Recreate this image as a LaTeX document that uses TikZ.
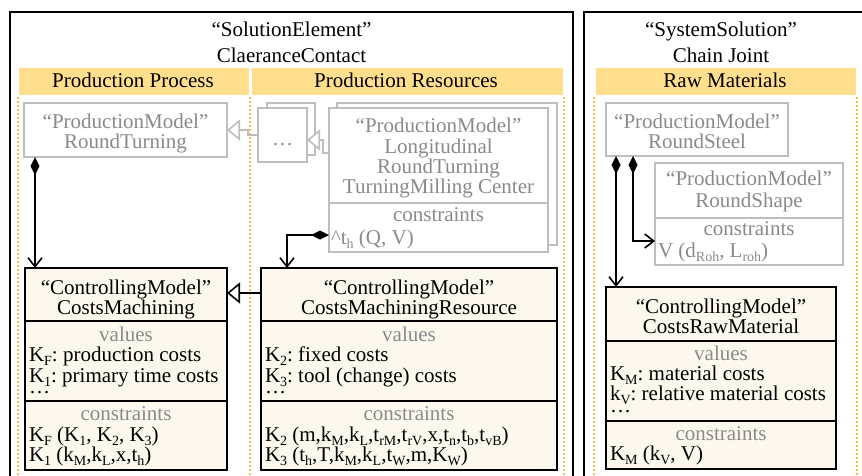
\documentclass[tikz,border=0pt]{standalone}
\usepackage{fontspec}
\setmainfont{Liberation Serif}
\usetikzlibrary{arrows.meta}
\definecolor{hdr}{HTML}{FFDF8E}
\definecolor{dotc}{HTML}{F9BC45}
\definecolor{pmline}{HTML}{BEBEBE}
\definecolor{pmtext}{HTML}{8A8A8A}
\definecolor{cream}{HTML}{FCF8EE}
% lowered subscript in the running text font
\newcommand\sbs[1]{\raisebox{-4.5pt}{\fontsize{14}{14}\selectfont #1}}
\frenchspacing
\begin{document}
\begin{tikzpicture}[x=1pt,y=-1pt,
  every node/.style={inner sep=0pt, outer sep=0pt},
  frame/.style={draw=black, line width=1.8pt, anchor=north west},
  header/.style={fill=hdr, anchor=north west},
  lane/.style={draw=dotc, line width=1.6pt, dash pattern=on 1.6pt off 2.4pt},
  pmbox/.style={draw=pmline, line width=1.6pt, fill=white, anchor=north west},
  cmbox/.style={draw=black, line width=1.8pt, fill=cream, anchor=north west},
  pmsep/.style={draw=pmline, line width=1.6pt},
  cmsep/.style={draw=black, line width=1.8pt},
  txt/.style={font=\fontsize{21}{21}\selectfont\frenchspacing, anchor=base},
  ltxt/.style={txt, anchor=base west},
  gtxt/.style={txt, text=pmtext},
  gltxt/.style={ltxt, text=pmtext},
  comp/.style={line width=1.6pt, {Diamond[length=18pt,width=9pt]}-{Straight Barb[length=9pt,width=14pt]}},
  gen/.style={line width=1.6pt, -{Triangle[open, length=13pt, width=21pt, fill=white]}},
]
\useasboundingbox (0,0) rectangle (862,475);
\clip (0,0) rectangle (862,475);

% swimlane separators
\draw[lane] (18,97) -- (18,480);
\draw[lane] (250,97) -- (250,480);
\draw[lane] (564,97) -- (564,480);
\draw[lane] (594,97) -- (594,480);
\draw[lane] (857,97) -- (857,480);

% outer frames
\node[frame, minimum width=563pt, minimum height=480pt] (seFrame) at (10,12) {};
\node[frame, minimum width=300pt, minimum height=480pt] (ssFrame) at (584,12) {};

% frame titles
\node[txt] (seT1) at (291.5,36) {“SolutionElement”};
\node[txt] (seT2) at (291.5,62) {ClaeranceContact};
\node[txt] (ssT1) at (721,36) {“SystemSolution”};
\node[txt] (ssT2) at (721,62) {Chain Joint};

% lane headers
\node[header, minimum width=230pt, minimum height=27pt] (hPP) at (19,68) {};
\node[header, minimum width=311pt, minimum height=27pt] (hPR) at (252,68) {};
\node[header, minimum width=260pt, minimum height=27pt] (hRM) at (596,68) {};
\node[txt] (hPPt) at (133,87) {Production Process};
\node[txt] (hPRt) at (406,87) {Production Resources};
\node[txt] (hRMt) at (725,87) {Raw Materials};

% production models
\node[pmbox, minimum width=203pt, minimum height=54pt] (rt) at (24,103) {};
\node[gtxt] (rtA) at (125.5,128) {“ProductionModel”};
\node[gtxt] (rtB) at (125.5,148) {RoundTurning};

\node[pmbox, minimum width=48pt, minimum height=52pt] (dotsB) at (267,103) {};
\node[pmbox, minimum width=49pt, minimum height=54pt] (dotsF) at (258,108) {};
\node[gtxt] (dotsT) at (282.5,145) {…};

\node[pmbox, minimum width=220pt, minimum height=142pt] (lfB) at (337,103) {};
\node[pmbox, minimum width=219pt, minimum height=144pt] (lf) at (329,108) {};
\draw[pmsep] (lf.west |- 0,203) -- (lf.east |- 0,203);
\node[gtxt] (lfA) at (438.5,132) {“ProductionModel”};
\node[gtxt] (lfB1) at (438.5,153) {Longitudinal};
\node[gtxt] (lfC) at (438.5,173) {RoundTurning};
\node[gtxt] (lfD) at (438.5,193) {TurningMilling Center};
\node[gtxt] (lfE) at (438.5,221) {constraints};
\node[gltxt] (lfF) at (331,244) {\textasciicircum t\sbs{h} (Q, V)};

\node[pmbox, minimum width=182pt, minimum height=53pt] (rs) at (606,103) {};
\node[gtxt] (rsA) at (697,128) {“ProductionModel”};
\node[gtxt] (rsB) at (697,148) {RoundSteel};

\node[pmbox, minimum width=188pt, minimum height=102pt] (rsh) at (655,163) {};
\draw[pmsep] (rsh.west |- 0,218) -- (rsh.east |- 0,218);
\node[gtxt] (rshA) at (749,185) {“ProductionModel”};
\node[gtxt] (rshB) at (749,207) {RoundShape};
\node[gtxt] (rshC) at (749,235) {constraints};
\node[gltxt] (rshD) at (658,257) {V (d\sbs{Roh}, L\sbs{roh})};

% controlling models
\node[cmbox, minimum width=202pt, minimum height=202pt] (cm) at (25,268) {};
\draw[cmsep] (cm.west |- 0,321) -- (cm.east |- 0,321);
\draw[cmsep] (cm.west |- 0,401) -- (cm.east |- 0,401);
\node[txt] (cmA) at (126,294) {“ControllingModel”};
\node[txt] (cmB) at (126,314) {CostsMachining};
\node[gtxt] (cmC) at (126,341) {values};
\node[ltxt] (cmD) at (29,361) {K\sbs{F}: production costs};
\node[ltxt] (cmE) at (29,382) {K\sbs{1}: primary time costs};
\node[ltxt] (cmF) at (29,393) {…};
\node[gtxt] (cmG) at (126,420) {constraints};
\node[ltxt] (cmH) at (29,441) {K\sbs{F} (K\sbs{1}, K\sbs{2}, K\sbs{3})};
\node[ltxt] (cmI) at (29,461) {K\sbs{1} (k\sbs{M},k\sbs{L},x,t\sbs{h})};

\node[cmbox, minimum width=296pt, minimum height=202pt] (cmr) at (261,268) {};
\draw[cmsep] (cmr.west |- 0,321) -- (cmr.east |- 0,321);
\draw[cmsep] (cmr.west |- 0,401) -- (cmr.east |- 0,401);
\node[txt] (cmrA) at (409,294) {“ControllingModel”};
\node[txt] (cmrB) at (409,314) {CostsMachiningResource};
\node[gtxt] (cmrC) at (409,341) {values};
\node[ltxt] (cmrD) at (265,361) {K\sbs{2}: fixed costs};
\node[ltxt] (cmrE) at (265,382) {K\sbs{3}: tool (change) costs};
\node[ltxt] (cmrF) at (265,393) {…};
\node[gtxt] (cmrG) at (409,420) {constraints};
\node[ltxt] (cmrH) at (265,441) {K\sbs{2} (m,k\sbs{M},k\sbs{L},t\sbs{rM},t\sbs{rV},x,t\sbs{n},t\sbs{b},t\sbs{vB})};
\node[ltxt] (cmrI) at (265,461) {K\sbs{3} (t\sbs{h},T,k\sbs{M},k\sbs{L},t\sbs{W},m,K\sbs{W})};

\node[cmbox, minimum width=230pt, minimum height=182pt] (crm) at (606,287) {};
\draw[cmsep] (crm.west |- 0,341) -- (crm.east |- 0,341);
\draw[cmsep] (crm.west |- 0,421) -- (crm.east |- 0,421);
\node[txt] (crmA) at (721,313) {“ControllingModel”};
\node[txt] (crmB) at (721,333) {CostsRawMaterial};
\node[gtxt] (crmC) at (721,360) {values};
\node[ltxt] (crmD) at (610,380) {K\sbs{M}: material costs};
\node[ltxt] (crmE) at (610,400) {k\sbs{V}: relative material costs};
\node[ltxt] (crmF) at (610,412) {…};
\node[gtxt] (crmG) at (721,440) {constraints};
\node[ltxt] (crmH) at (610,460) {K\sbs{M} (k\sbs{V}, V)};

% generalizations
\draw[gen, draw=pmline] (dotsF.west) -- ++(-10,0) |- (rt.east);
\draw[gen, draw=pmline] ([yshift=27pt]lf.west) -- ++(-6,0) |- ([yshift=-5pt]dotsF.east);
\draw[gen] ([yshift=76pt]cmr.west) -- ([yshift=76pt]cm.east);

% compositions
\draw[comp] ([xshift=11pt]rt.south west) -- ([xshift=10pt]cm.north west);
\draw[comp] ([yshift=-55pt]lf.west) -| ([xshift=26pt]cmr.north west);
\draw[comp] ([xshift=10pt]rs.south west) -- ([xshift=10pt]crm.north west);
\draw[comp] ([xshift=27pt]rs.south west) |- ([yshift=-27pt]rsh.west);
\end{tikzpicture}
\end{document}
